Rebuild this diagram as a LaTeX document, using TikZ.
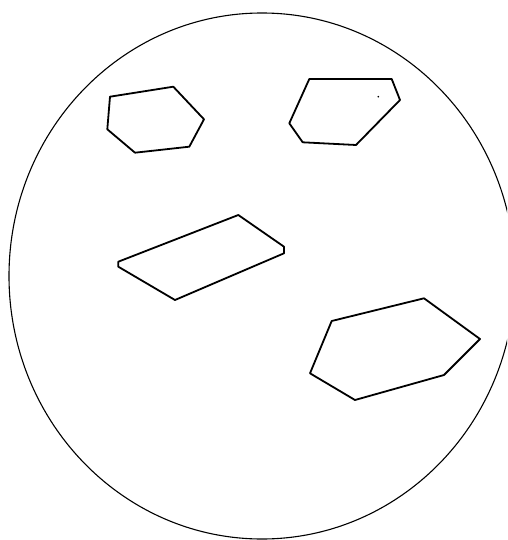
\documentclass[tikz,border=0pt]{standalone}
\begin{document}
\begin{tikzpicture}[x=1pt,y=-1pt,
  outline/.style={line width=1.1pt,black},
  piece/.style={line width=1.8pt,black,line join=round}]
\useasboundingbox (0,0) rectangle (507,540);
\clip (0,0) rectangle (507,540);
% outer circle
\draw[outline] (262,276) ellipse [x radius=253, y radius=263];
% top-left hexagon
\draw[piece] (110,96.7) -- (173.3,86.7) -- (204,119.3) -- (189.3,146.7) -- (135,152.7) -- (107.3,129.3) -- cycle;
% top-right hexagon
\draw[piece] (309.3,79) -- (391.7,79) -- (400,100) -- (356,145) -- (302.7,142.3) -- (289.3,123.3) -- cycle;
\fill (378.3,96.7) circle [radius=0.9];
% parallelogram
\draw[piece] (118.3,261.7) -- (238.3,215) -- (284,246.7) -- (284,253.3) -- (175,300) -- (118.3,266.7) -- cycle;
% bottom-right hexagon
\draw[piece] (331.7,321) -- (424,298.3) -- (480,339) -- (444,375) -- (355,400) -- (310,373.3) -- cycle;
\end{tikzpicture}
\end{document}
